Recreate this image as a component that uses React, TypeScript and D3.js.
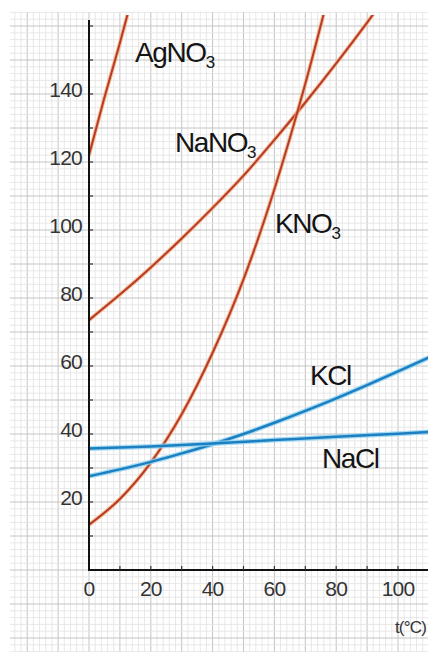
import React from 'react'
import * as d3 from 'd3'

// solubility (g / 100 g water) vs temperature (°C)
const xTicks = [0, 20, 40, 60, 80, 100]
const yTicks = [20, 40, 60, 80, 100, 120, 140]

const agno3Temp = [0, 5, 10, 15]
const agno3Sol = [122, 139, 155, 172]

const nano3Temp = [0, 10, 20, 30, 40, 50, 60, 70, 80, 90, 100]
const nano3Sol = [73.5, 81, 89, 97.5, 106.5, 116, 126.5, 137.5, 149, 161, 173.5]

const kno3Temp = [0, 10, 20, 30, 40, 50, 60, 70, 80]
const kno3Sol = [13.3, 20.9, 31.6, 45.8, 63.9, 85.5, 112, 143, 178]

const kclTemp = [0, 10, 20, 30, 40, 50, 60, 70, 80, 90, 100, 110]
const kclSol = [27.6, 29.6, 31.8, 34.3, 37, 40, 43.3, 46.8, 50.5, 54.4, 58.4, 62.5]

const naclTemp = [0, 20, 40, 60, 80, 100, 110]
const naclSol = [35.7, 36.3, 37.2, 38.2, 39.2, 40.1, 40.6]

const W = 428
const H = 652
const FONT = '"Liberation Sans", Arial, Helvetica, sans-serif'

const RED = '#b83a28'
const RED_GLOW = '#f2a56a'
const BLUE = '#1c7fc0'
const BLUE_GLOW = '#8fd2f2'

export default function App() {
  /* scales */
  const x = d3.scaleLinear().domain([0, 100]).range([89, 398])
  const y = d3.scaleLinear().domain([0, 140]).range([570, 94])

  const line = d3.line<[number, number]>()
    .x(d => x(d[0]))
    .y(d => y(d[1]))
    .curve(d3.curveMonotoneX)

  const zip = (t: number[], v: number[]) => t.map((d, i) => [d, v[i]] as [number, number])

  const redCurves = [zip(agno3Temp, agno3Sol), zip(nano3Temp, nano3Sol), zip(kno3Temp, kno3Sol)]
  const blueCurves = [zip(kclTemp, kclSol), zip(naclTemp, naclSol)]

  /* graph paper */
  const gx0 = Math.ceil(x.invert(10)), gx1 = Math.floor(x.invert(W))
  const gy0 = Math.ceil(y.invert(H)), gy1 = Math.floor(y.invert(12))
  const vLines = d3.range(gx0, gx1 + 1).filter(d => d % 2 === 0)
  const hLines = d3.range(gy0, gy1 + 1).filter(d => d % 2 === 0)

  const minorX = d3.range(10, 111, 10)
  const minorY = d3.range(10, 161, 10)

  const label = (t: number, v: number, main: string, sub?: string) => (
    <text x={x(t)} y={y(v)} fontSize={28} letterSpacing={-1.4} fill="#141414" fontFamily={FONT}>
      {main}
      {sub && <tspan fontSize={17} dy={6}>{sub}</tspan>}
    </text>
  )

  return (
    <svg width={W} height={H} style={{ position: 'absolute', left: 0, top: 0, background: '#fff' }}>
      <defs>
        <clipPath id="plot">
          <rect x={x(0)} y={15} width={W - x(0)} height={y(0) - 15} />
        </clipPath>
      </defs>

      {/* grid paper */}
      <g>
        {vLines.map(d => (
          <line key={'v' + d} x1={x(d)} x2={x(d)} y1={12} y2={H}
            stroke={d % 10 === 0 ? '#c4c4c4' : '#e2e2e2'} strokeWidth={d % 10 === 0 ? 1 : 0.8} />
        ))}
        {hLines.map(d => (
          <line key={'h' + d} x1={10} x2={W} y1={y(d)} y2={y(d)}
            stroke={d % 10 === 0 ? '#c4c4c4' : '#e2e2e2'} strokeWidth={d % 10 === 0 ? 1 : 0.8} />
        ))}
      </g>

      {/* curves */}
      <g clipPath="url(#plot)" fill="none" strokeLinecap="round">
        {redCurves.map((c, i) => (
          <g key={'r' + i}>
            <path d={line(c) || ''} stroke={RED_GLOW} strokeWidth={4} opacity={0.7} />
            <path d={line(c) || ''} stroke={RED} strokeWidth={2} />
          </g>
        ))}
        {blueCurves.map((c, i) => (
          <g key={'b' + i}>
            <path d={line(c) || ''} stroke={BLUE_GLOW} strokeWidth={5} opacity={0.8} />
            <path d={line(c) || ''} stroke={BLUE} strokeWidth={2.5} />
          </g>
        ))}
      </g>

      {/* axes */}
      <line x1={x(0)} x2={x(0)} y1={20} y2={y(0) + 1} stroke="#111" strokeWidth={2} />
      <line x1={x(0) - 1} x2={W} y1={y(0)} y2={y(0)} stroke="#111" strokeWidth={2} />
      {minorX.map(d => (
        <line key={'tx' + d} x1={x(d)} x2={x(d)} y1={y(0)} y2={y(0) - 4} stroke="#333" strokeWidth={1.2} />
      ))}
      {minorY.map(d => (
        <line key={'ty' + d} x1={x(0)} x2={x(0) + 4} y1={y(d)} y2={y(d)} stroke="#333" strokeWidth={1.2} />
      ))}

      {/* tick labels */}
      <g fontFamily={FONT} fontSize={21} fill="#333" letterSpacing={-0.8}>
        {yTicks.map(d => (
          <text key={'yl' + d} x={x(0) - 7} y={y(d) - 3} textAnchor="end" dominantBaseline="middle">{d}</text>
        ))}
        {xTicks.map(d => (
          <text key={'xl' + d} x={x(d)} y={y(0) + 26} textAnchor="middle">{d}</text>
        ))}
        <text x={W - 2} y={633} textAnchor="end" fontSize={17}>t(°C)</text>
      </g>

      {/* curve labels */}
      {label(14.9, 149.4, 'AgNO', '3')}
      {label(27.8, 123, 'NaNO', '3')}
      {label(60.2, 99, 'KNO', '3')}
      {label(71.5, 54.4, 'KCl')}
      {label(75.4, 30, 'NaCl')}
    </svg>
  )
}
